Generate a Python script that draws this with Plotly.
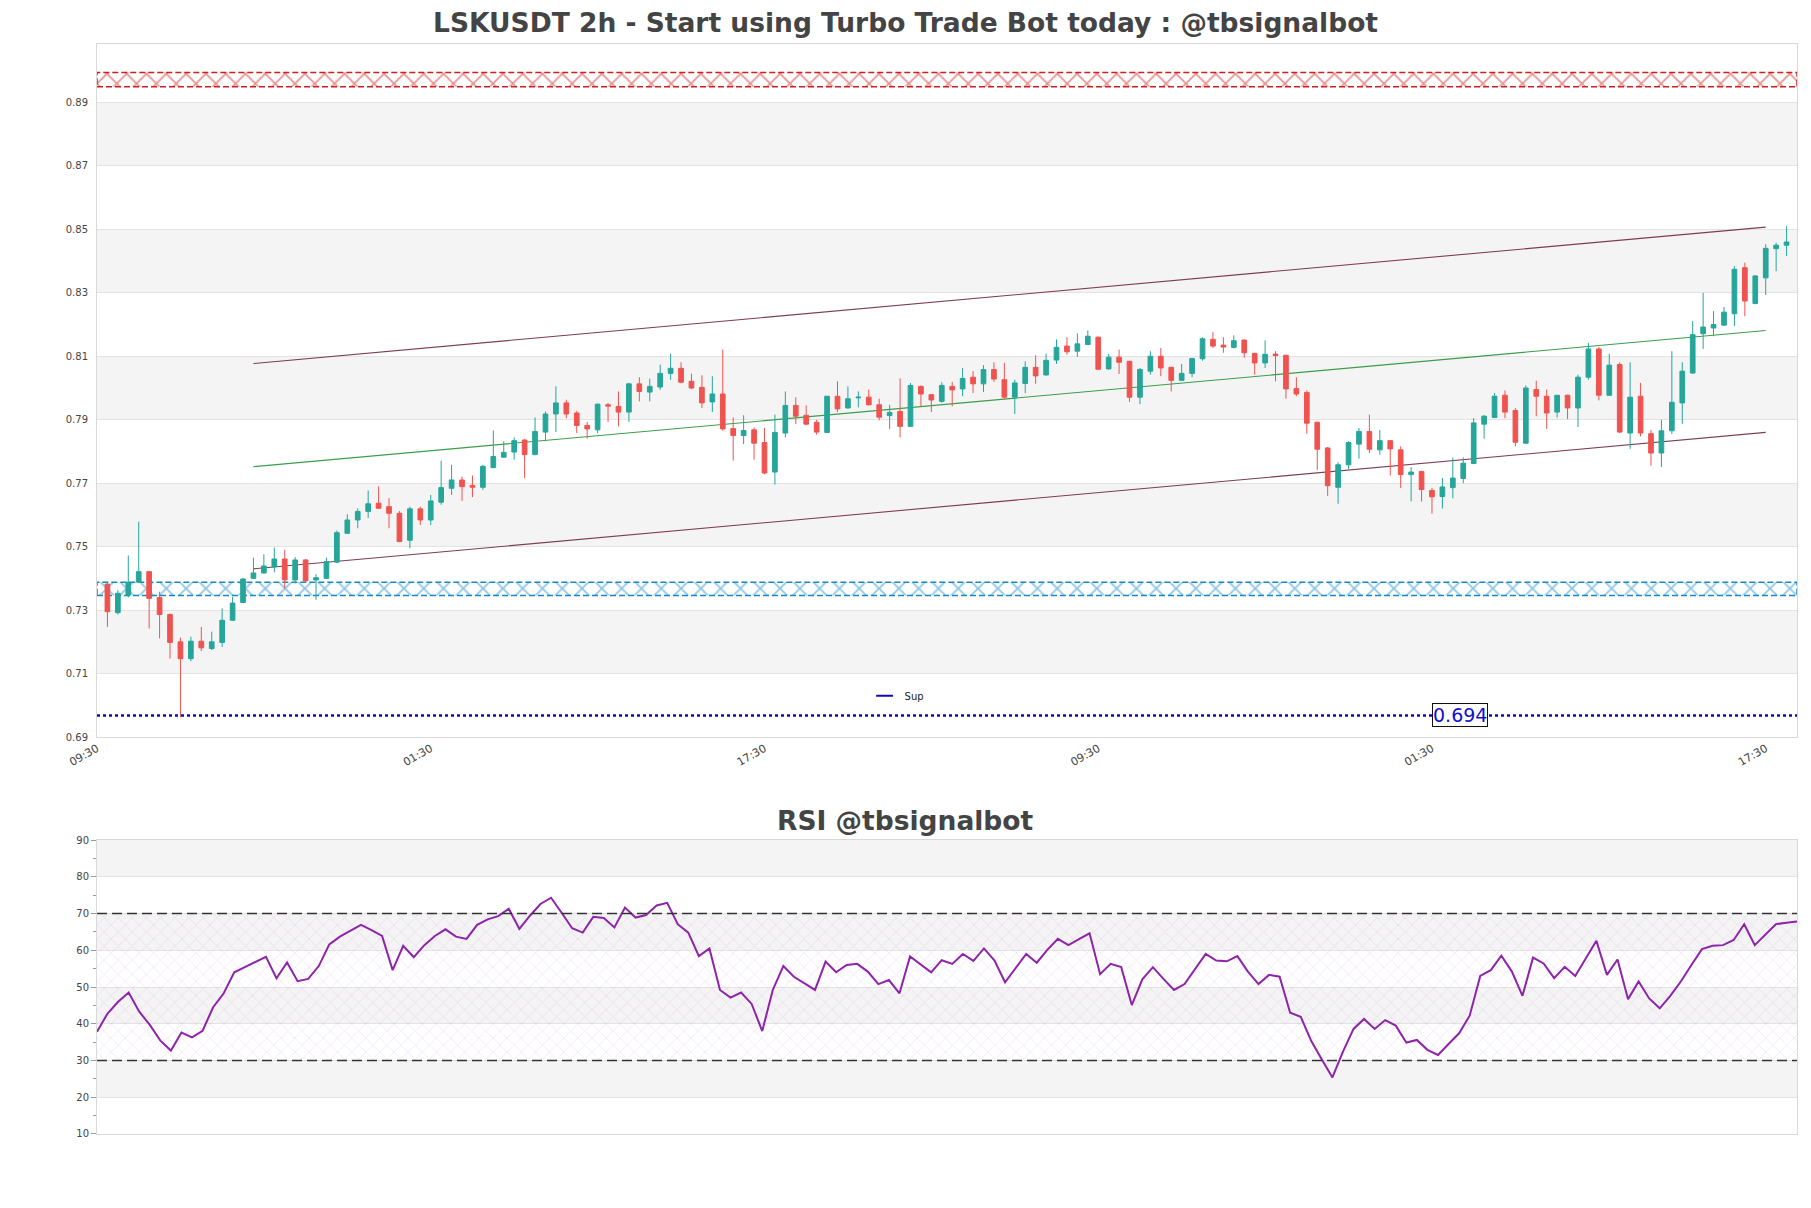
import pandas as pd
import plotly.graph_objects as go

# ---------------- data ----------------
OPEN = [0.7382, 0.7292, 0.7347, 0.7388, 0.7421, 0.7340, 0.7286, 0.7200, 0.7147, 0.7202,
        0.7179, 0.7198, 0.7268, 0.7324, 0.7400, 0.7417, 0.7436, 0.7461, 0.7395, 0.7458,
        0.7395, 0.7400, 0.7451, 0.7542, 0.7584, 0.7611, 0.7637, 0.7626, 0.7605, 0.7520,
        0.7619, 0.7584, 0.7640, 0.7684, 0.7710, 0.7693, 0.7687, 0.7749, 0.7782, 0.7798,
        0.7836, 0.7790, 0.7861, 0.7918, 0.7953, 0.7921, 0.7882, 0.7868, 0.7947, 0.7942,
        0.7924, 0.8013, 0.7987, 0.8003, 0.8046, 0.8062, 0.8021, 0.8002, 0.7956, 0.7981,
        0.7872, 0.7850, 0.7868, 0.7828, 0.7735, 0.7858, 0.7945, 0.7914, 0.7892, 0.7860,
        0.7974, 0.7937, 0.7969, 0.7971, 0.7947, 0.7913, 0.7926, 0.7879, 0.8005, 0.7979,
        0.7958, 0.8005, 0.7997, 0.8034, 0.8013, 0.8058, 0.8026, 0.7971, 0.8014, 0.8065,
        0.8041, 0.8088, 0.8132, 0.8116, 0.8137, 0.8160, 0.8060, 0.8097, 0.8084, 0.7971,
        0.8053, 0.8100, 0.8065, 0.8024, 0.8046, 0.8092, 0.8153, 0.8135, 0.8128, 0.8151,
        0.8109, 0.8079, 0.8107, 0.8103, 0.7998, 0.7986, 0.7892, 0.7811, 0.7687, 0.7758,
        0.7823, 0.7863, 0.7805, 0.7834, 0.7805, 0.7727, 0.7737, 0.7677, 0.7658, 0.7686,
        0.7715, 0.7762, 0.7886, 0.7907, 0.7977, 0.7929, 0.7826, 0.7995, 0.7974, 0.7924,
        0.7977, 0.7937, 0.8034, 0.8123, 0.7977, 0.8074, 0.7858, 0.7974, 0.7856, 0.7795,
        0.7865, 0.7953, 0.8047, 0.8171, 0.8189, 0.8198, 0.8234, 0.8379, 0.8266, 0.8347,
        0.8439, 0.8450]
HIGH = [0.7385, 0.7363, 0.7472, 0.7579, 0.7423, 0.7358, 0.7289, 0.7213, 0.7216, 0.7247,
        0.7232, 0.7305, 0.7342, 0.7402, 0.7465, 0.7476, 0.7497, 0.7490, 0.7467, 0.7461,
        0.7413, 0.7465, 0.7551, 0.7602, 0.7621, 0.7677, 0.7690, 0.7653, 0.7612, 0.7626,
        0.7626, 0.7663, 0.7771, 0.7758, 0.7721, 0.7724, 0.7758, 0.7866, 0.7832, 0.7844,
        0.7838, 0.7907, 0.7926, 0.8005, 0.7963, 0.7928, 0.7893, 0.7951, 0.7953, 0.7989,
        0.8016, 0.8034, 0.8029, 0.8074, 0.8108, 0.8081, 0.8045, 0.8040, 0.8037, 0.8121,
        0.7907, 0.7914, 0.7876, 0.7874, 0.7916, 0.7989, 0.7971, 0.7945, 0.7900, 0.7974,
        0.8021, 0.8005, 0.7989, 0.7995, 0.7966, 0.7947, 0.8030, 0.8016, 0.8008, 0.7981,
        0.8018, 0.8019, 0.8063, 0.8053, 0.8072, 0.8081, 0.8079, 0.8026, 0.8084, 0.8103,
        0.8108, 0.8153, 0.8160, 0.8172, 0.8181, 0.8162, 0.8107, 0.8121, 0.8086, 0.8063,
        0.8116, 0.8126, 0.8067, 0.8076, 0.8095, 0.8160, 0.8176, 0.8160, 0.8166, 0.8153,
        0.8111, 0.8150, 0.8116, 0.8105, 0.8034, 0.7992, 0.7894, 0.7814, 0.7766, 0.7832,
        0.7874, 0.7916, 0.7868, 0.7836, 0.7816, 0.7751, 0.7739, 0.7685, 0.7716, 0.7781,
        0.7781, 0.7905, 0.7915, 0.7984, 0.7992, 0.7937, 0.8008, 0.8023, 0.7995, 0.7977,
        0.7979, 0.8042, 0.8142, 0.8129, 0.8108, 0.8081, 0.8081, 0.8016, 0.7868, 0.7900,
        0.8116, 0.8081, 0.8211, 0.8300, 0.8242, 0.8255, 0.8384, 0.8395, 0.8356, 0.8453,
        0.8458, 0.8510]
LOW = [0.7247, 0.7286, 0.7340, 0.7386, 0.7242, 0.7211, 0.7147, 0.6963, 0.7139, 0.7171,
       0.7174, 0.7184, 0.7266, 0.7322, 0.7398, 0.7415, 0.7419, 0.7368, 0.7384, 0.7387,
       0.7332, 0.7398, 0.7449, 0.7540, 0.7558, 0.7590, 0.7619, 0.7558, 0.7514, 0.7495,
       0.7568, 0.7568, 0.7632, 0.7663, 0.7644, 0.7656, 0.7679, 0.7747, 0.7780, 0.7774,
       0.7716, 0.7788, 0.7832, 0.7861, 0.7905, 0.7858, 0.7840, 0.7858, 0.7893, 0.7879,
       0.7893, 0.7958, 0.7958, 0.7994, 0.8026, 0.8015, 0.7996, 0.7937, 0.7924, 0.7865,
       0.7771, 0.7823, 0.7774, 0.7728, 0.7695, 0.7844, 0.7886, 0.7884, 0.7853, 0.7858,
       0.7924, 0.7935, 0.7939, 0.7945, 0.7898, 0.7871, 0.7844, 0.7877, 0.7942, 0.7924,
       0.7953, 0.7942, 0.7974, 0.7984, 0.7987, 0.8019, 0.7966, 0.7918, 0.7984, 0.8013,
       0.8039, 0.8076, 0.8105, 0.8098, 0.8135, 0.8057, 0.8058, 0.8044, 0.7956, 0.7949,
       0.8042, 0.8037, 0.7989, 0.8022, 0.8034, 0.8086, 0.8126, 0.8111, 0.8124, 0.8095,
       0.8042, 0.8063, 0.8021, 0.7966, 0.7974, 0.7856, 0.7742, 0.7660, 0.7635, 0.7745,
       0.7777, 0.7795, 0.7790, 0.7724, 0.7685, 0.7643, 0.7642, 0.7604, 0.7620, 0.7652,
       0.7700, 0.7760, 0.7840, 0.7905, 0.7905, 0.7816, 0.7824, 0.7911, 0.7871, 0.7907,
       0.7902, 0.7877, 0.8026, 0.7961, 0.7975, 0.7858, 0.7808, 0.7847, 0.7755, 0.7751,
       0.7855, 0.7887, 0.8045, 0.8123, 0.8163, 0.8196, 0.8195, 0.8226, 0.8264, 0.8293,
       0.8368, 0.8416]
CLOSE = [0.7295, 0.7353, 0.7388, 0.7421, 0.7337, 0.7286, 0.7198, 0.7147, 0.7202, 0.7181,
         0.7200, 0.7268, 0.7322, 0.7398, 0.7417, 0.7439, 0.7461, 0.7395, 0.7458, 0.7392,
         0.7402, 0.7453, 0.7544, 0.7584, 0.7611, 0.7635, 0.7621, 0.7605, 0.7516, 0.7619,
         0.7584, 0.7644, 0.7686, 0.7710, 0.7689, 0.7687, 0.7753, 0.7784, 0.7797, 0.7834,
         0.7790, 0.7863, 0.7918, 0.7953, 0.7918, 0.7882, 0.7871, 0.7949, 0.7943, 0.7924,
         0.8013, 0.7989, 0.8005, 0.8046, 0.8062, 0.8018, 0.8000, 0.7953, 0.7981, 0.7871,
         0.7850, 0.7866, 0.7826, 0.7732, 0.7860, 0.7945, 0.7911, 0.7886, 0.7861, 0.7974,
         0.7934, 0.7966, 0.7971, 0.7947, 0.7908, 0.7923, 0.7879, 0.8008, 0.7981, 0.7962,
         0.8008, 0.7994, 0.8030, 0.8013, 0.8058, 0.8028, 0.7971, 0.8016, 0.8065, 0.8038,
         0.8087, 0.8128, 0.8114, 0.8139, 0.8163, 0.8059, 0.8097, 0.8081, 0.7971, 0.8058,
         0.8100, 0.8063, 0.8024, 0.8046, 0.8093, 0.8155, 0.8132, 0.8129, 0.8149, 0.8111,
         0.8079, 0.8106, 0.8102, 0.7997, 0.7981, 0.7889, 0.7807, 0.7692, 0.7758, 0.7828,
         0.7863, 0.7807, 0.7834, 0.7808, 0.7727, 0.7735, 0.7680, 0.7657, 0.7688, 0.7716,
         0.7763, 0.7890, 0.7911, 0.7974, 0.7924, 0.7829, 0.8000, 0.7974, 0.7921, 0.7977,
         0.7937, 0.8034, 0.8123, 0.7977, 0.8072, 0.7861, 0.7971, 0.7858, 0.7795, 0.7865,
         0.7955, 0.8053, 0.8168, 0.8192, 0.8200, 0.8239, 0.8374, 0.8274, 0.8353, 0.8440,
         0.8450, 0.8460]
RSI = [37.8, 42.8, 46.0, 48.5, 43.3, 39.7, 35.4, 32.7, 37.6, 36.3,
       38.1, 44.5, 48.3, 54.0, 55.4, 56.9, 58.2, 52.4, 56.7, 51.6,
       52.2, 55.7, 61.6, 63.7, 65.3, 66.9, 65.5, 63.9, 54.6, 61.2,
       58.1, 61.4, 63.9, 65.7, 63.7, 63.1, 66.9, 68.4, 69.3, 71.3,
       65.8, 69.4, 72.6, 74.3, 70.2, 66.0, 64.8, 69.1, 68.8, 66.2,
       71.6, 68.9, 69.6, 72.2, 72.9, 67.1, 64.8, 58.4, 60.5, 49.2,
       47.1, 48.5, 45.4, 38.0, 49.2, 55.7, 52.8, 51.0, 49.2, 56.9,
       54.0, 56.0, 56.3, 54.2, 50.8, 51.9, 48.3, 58.3, 56.2, 54.0,
       57.3, 56.3, 59.0, 57.1, 60.5, 57.2, 51.3, 55.1, 59.0, 56.6,
       60.1, 63.1, 61.4, 63.0, 64.6, 53.5, 56.3, 55.4, 45.1, 52.1,
       55.4, 52.2, 49.2, 50.8, 54.8, 59.0, 57.2, 57.0, 58.4, 54.2,
       50.8, 53.3, 52.8, 43.0, 41.9, 35.3, 30.3, 25.4, 32.4, 38.6,
       41.3, 38.6, 41.0, 39.5, 34.9, 35.6, 32.9, 31.5, 34.5, 37.4,
       42.2, 53.0, 54.6, 58.5, 54.2, 47.6, 58.0, 56.4, 52.4, 55.5,
       53.0, 57.8, 62.6, 53.3, 57.5, 46.7, 51.5, 46.9, 44.2, 47.6,
       51.5, 56.0, 60.3, 61.2, 61.4, 62.8, 67.1, 61.4, 64.3, 67.1,
       67.5, 67.8]

START = pd.Timestamp("2024-03-04 11:30")     # first candle
STEP = pd.Timedelta(hours=2)
TIMES = [START + STEP * i for i in range(len(CLOSE))]

RES_ZONE = [0.8949, 0.8994]
SUP_ZONE = [0.7346, 0.7388]
SUP_LEVEL = 0.6968
SUP_LABEL = "0.694"
CH_IDX = [14, 159]
CH_UPPER = [0.8077, 0.8507]
CH_MID = [0.7752, 0.8181]
CH_LOWER = [0.7430, 0.7860]
Y_TICKS = [0.69, 0.71, 0.73, 0.75, 0.77, 0.79, 0.81, 0.83, 0.85, 0.87, 0.89]
RSI_TICKS = [10, 20, 30, 40, 50, 60, 70, 80, 90]

# ---------------- figure ----------------
X0 = TIMES[0] - STEP
X1 = TIMES[-1] + STEP
Y_RANGE = [0.69, 0.9084]
GREEN, RED = "#26a69a", "#ef5350"
FONT = "DejaVu Sans"

fig = go.Figure()


def zone(y0, y1, color, size):
    fig.add_trace(go.Scatter(
        x=[X0, X1, X1, X0, X0], y=[y0, y0, y1, y1, y0], mode="lines",
        fill="toself", fillcolor="rgba(255,255,255,0)",
        fillpattern=dict(shape="x", fgcolor=color, bgcolor="rgba(255,255,255,0)",
                         size=size, solidity=0.22),
        line=dict(color=color, width=1.5, dash="6px,3px"),
        hoverinfo="skip", showlegend=False, xaxis="x", yaxis="y"))


zone(RES_ZONE[0], RES_ZONE[1], "#d01f1f", 14)
zone(SUP_ZONE[0], SUP_ZONE[1], "#1789c8", 14)

# channel lines
for ys, col in [(CH_UPPER, "#7d3c52"), (CH_MID, "#3a9e4a"), (CH_LOWER, "#7d3c52")]:
    fig.add_trace(go.Scatter(x=[TIMES[CH_IDX[0]], TIMES[CH_IDX[1]]], y=ys, mode="lines",
                             line=dict(color=col, width=1.1), hoverinfo="skip",
                             showlegend=False, xaxis="x", yaxis="y"))

# support line
fig.add_trace(go.Scatter(x=[X0, X1], y=[SUP_LEVEL, SUP_LEVEL], mode="lines", name="Sup",
                         line=dict(color="#0c0cb4", width=2.5, dash="dot"),
                         showlegend=False, xaxis="x", yaxis="y"))
# legend entry for the support line (short line symbol)
fig.add_trace(go.Scatter(x=[None], y=[None], mode="markers", name="Sup",
                         marker=dict(symbol="line-ew", size=12,
                                     line=dict(color="#0c0cb4", width=2)),
                         showlegend=True, xaxis="x", yaxis="y"))

# candles (on an overlaying axis so they sit above the zones)
fig.add_trace(go.Candlestick(
    x=TIMES, open=OPEN, high=HIGH, low=LOW, close=CLOSE,
    increasing=dict(line=dict(color=GREEN, width=1), fillcolor=GREEN),
    decreasing=dict(line=dict(color=RED, width=1), fillcolor=RED),
    whiskerwidth=0, showlegend=False, xaxis="x", yaxis="y3"))

# RSI hatch band 30-70
fig.add_trace(go.Scatter(
    x=[TIMES[0], TIMES[-1], TIMES[-1], TIMES[0], TIMES[0]], y=[30, 30, 70, 70, 30],
    mode="lines", fill="toself", fillcolor="rgba(255,255,255,0)",
    fillpattern=dict(shape="x", fgcolor="rgba(185,125,205,0.5)", bgcolor="rgba(0,0,0,0)",
                     size=10, solidity=0.12),
    line=dict(width=0), hoverinfo="skip", showlegend=False, xaxis="x2", yaxis="y2"))

fig.add_trace(go.Scatter(x=TIMES, y=RSI, mode="lines", line=dict(color="#8e24aa", width=2),
                         showlegend=False, xaxis="x2", yaxis="y2"))

# background bands
shapes = []
for k in range(0, len(Y_TICKS) - 1):
    if k % 2 == 1:
        shapes.append(dict(type="rect", xref="x domain", yref="y", x0=0, x1=1,
                           y0=Y_TICKS[k], y1=Y_TICKS[k + 1], fillcolor="#f4f4f4",
                           line=dict(width=0), layer="below"))
for k in range(0, len(RSI_TICKS) - 1):
    if k % 2 == 1:
        shapes.append(dict(type="rect", xref="x2 domain", yref="y2", x0=0, x1=1,
                           y0=RSI_TICKS[k], y1=RSI_TICKS[k + 1], fillcolor="#f4f4f4",
                           line=dict(width=0), layer="below"))
for lvl in (30, 70):
    shapes.append(dict(type="line", xref="x2 domain", yref="y2", x0=0, x1=1, y0=lvl, y1=lvl,
                       line=dict(color="#333333", width=1.4, dash="10px,5px")))

axis_common = dict(showline=True, linecolor="#d9d9d9", linewidth=1, mirror=True, zeroline=False)
tickfont = dict(family=FONT, size=10, color="#444444")

fig.update_layout(
    width=1811, height=1208,
    margin=dict(l=89, r=22, t=36, b=82),
    paper_bgcolor="white", plot_bgcolor="white",
    font=dict(family=FONT, color="#444444"),
    boxgap=0.36,
    showlegend=True,
    legend=dict(x=0.4515, y=0.402, xanchor="left", yanchor="middle", orientation="h",
                bgcolor="rgba(0,0,0,0)", font=dict(family=FONT, size=10, color="#222222")),
    shapes=shapes,
    xaxis=dict(type="date", domain=[0, 1], anchor="y", range=[X0, X1],
               tick0=X0, dtick=64 * 3600 * 1000, tickformat="%H:%M", tickangle=-30,
               showgrid=False, rangeslider=dict(visible=False),
               tickfont=dict(family=FONT, size=11, color="#444444"), **axis_common),
    yaxis=dict(domain=[0.3642, 1], anchor="x", range=Y_RANGE, tickvals=Y_TICKS,
               tickformat=".2f", gridcolor="#e3e3e3", ticks="outside", ticklen=6,
               tickcolor="rgba(0,0,0,0)", tickfont=tickfont, **axis_common),
    yaxis3=dict(overlaying="y", anchor="x", range=Y_RANGE, visible=False),
    xaxis2=dict(type="date", domain=[0, 1], anchor="y2", range=[TIMES[0], TIMES[-1]],
                showticklabels=False, showgrid=False, **axis_common),
    yaxis2=dict(domain=[0, 0.2697], anchor="x2", range=[10, 90], tickvals=RSI_TICKS,
                gridcolor="#e3e3e3", ticks="outside", ticklen=5, tickcolor="#999999",
                minor=dict(dtick=5, ticks="outside", ticklen=3, tickcolor="#999999", showgrid=False),
                tickfont=tickfont, **axis_common),
    annotations=[
        dict(text="<b>LSKUSDT 2h - Start using Turbo Trade Bot today : @tbsignalbot</b>",
             xref="paper", yref="paper", x=0.4756, y=1.0193, xanchor="center", yanchor="middle",
             showarrow=False, font=dict(family=FONT, size=26.5, color="#444444")),
        dict(text="<b>RSI @tbsignalbot</b>", xref="paper", yref="paper", x=0.4756, y=0.288,
             xanchor="center", yanchor="middle", showarrow=False,
             font=dict(family=FONT, size=26.5, color="#444444")),
        dict(text=SUP_LABEL, xref="x", yref="y", x=START + STEP * 129.7, y=SUP_LEVEL,
             xanchor="center", yanchor="middle", showarrow=False,
             font=dict(family=FONT, size=19, color="#1010d0"),
             bgcolor="white", bordercolor="#111111", borderwidth=1, borderpad=0),
    ],
)

fig.write_html("out.html")
